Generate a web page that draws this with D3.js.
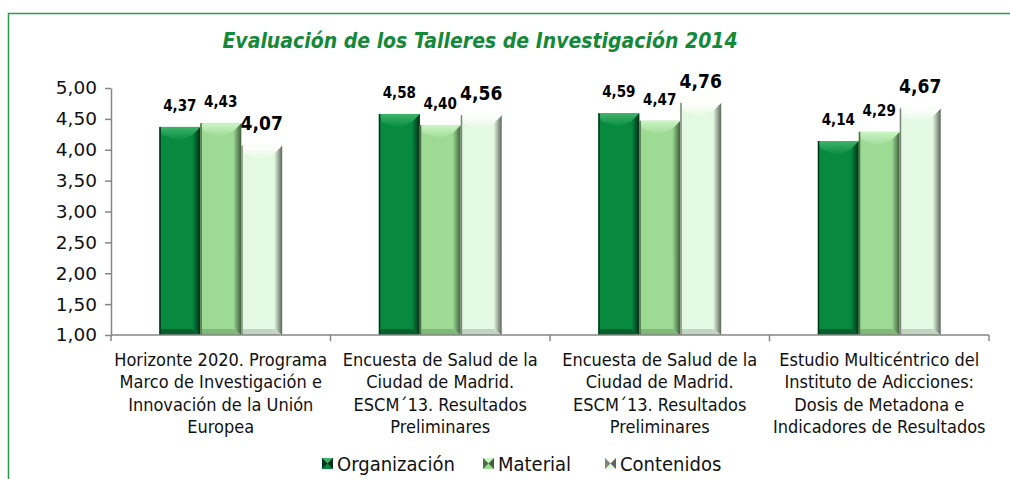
<!DOCTYPE html>
<html lang="es">
<head>
<meta charset="utf-8">
<title>Evaluación de los Talleres de Investigación 2014</title>
<script src="https://cdn.jsdelivr.net/npm/d3@7"></script>
<style>
  body { margin: 0; background: #fff; }
  svg text { font-family: "DejaVu Sans Condensed", "DejaVu Sans", sans-serif; font-stretch: condensed; fill: #111; }
</style>
</head>
<body>
<script>
// data
var categories = [
  "Horizonte 2020. Programa|Marco de Investigación e|Innovación de la Unión|Europea",
  "Encuesta de Salud de la|Ciudad de Madrid.|ESCM´13. Resultados|Preliminares",
  "Encuesta de Salud de la|Ciudad de Madrid.|ESCM´13. Resultados|Preliminares",
  "Estudio Multicéntrico del|Instituto de Adicciones:|Dosis de Metadona e|Indicadores de Resultados"
];
var seriesNames = ["Organización", "Material", "Contenidos"];
var organizacion = [4.37, 4.58, 4.59, 4.14];
var material = [4.43, 4.40, 4.47, 4.29];
var contenidos = [4.07, 4.56, 4.76, 4.67];
var yTicks = [1, 1.5, 2, 2.5, 3, 3.5, 4, 4.5, 5];

var values = [organizacion, material, contenidos];

// look of each series: base, top bevel, right side, bottom bevel
var styles = [
  { base: "#078a40", top: "#3fb36a", side: "#022e16", bottom: "#05602d", edge: "#02361a" },
  { base: "#9ddb95", top: "#ccf4c5", side: "#3f5d3b", bottom: "#7fb877", edge: "#4d6e48" },
  { base: "#e4f9e1", top: "#ffffff", side: "#5d665c", bottom: "#c3d4c0", edge: "#7c877a" }
];

var w = 1010, h = 479;
var plotLeft = 111, plotRight = 989, plotTop = 88, plotBottom = 335;

var svg = d3.select("body").append("svg")
  .attr("width", w)
  .attr("height", h);

// frame
svg.append("rect")
  .attr("x", 8.5).attr("y", 13.5)
  .attr("width", 1010).attr("height", 500)
  .attr("fill", "none")
  .attr("stroke", "#2f9a4c")
  .attr("stroke-width", 1.5);

// title
svg.append("text")
  .attr("x", 480).attr("y", 48)
  .attr("text-anchor", "middle")
  .style("font-size", "21px")
  .style("font-weight", "bold")
  .style("font-style", "italic")
  .style("fill", "#14893a")
  .text("Evaluación de los Talleres de Investigación 2014");

var y = d3.scaleLinear().domain([1, 5]).range([plotBottom, plotTop]);
var x0 = d3.scaleBand().domain(d3.range(categories.length)).range([plotLeft, plotRight]);
var x1 = d3.scaleBand().domain(d3.range(seriesNames.length))
  .range([0, x0.bandwidth()])
  .paddingOuter(1.18);

// gradients for the shaded right side and the top bevel
var defs = svg.append("defs");
styles.forEach(function(s, i) {
  var g = defs.append("linearGradient")
    .attr("id", "side" + i)
    .attr("x1", "0").attr("x2", "1").attr("y1", "0").attr("y2", "0");
  g.append("stop").attr("offset", "0").attr("stop-color", s.base);
  g.append("stop").attr("offset", "1").attr("stop-color", s.side);
  var t = defs.append("linearGradient")
    .attr("id", "top" + i)
    .attr("x1", "0").attr("x2", "0").attr("y1", "0").attr("y2", "1");
  t.append("stop").attr("offset", "0").attr("stop-color", s.top);
  t.append("stop").attr("offset", "1").attr("stop-color", s.base);
});

// y axis
var yAxis = svg.append("g")
  .attr("transform", "translate(" + plotLeft + ",0)")
  .call(d3.axisLeft(y).tickValues(yTicks).tickSize(6).tickSizeOuter(0)
    .tickFormat(function(d) { return d3.format(".2f")(d).replace(".", ","); }));
yAxis.select(".domain").attr("stroke", "#868686").attr("stroke-width", 1.5);
yAxis.selectAll(".tick line").attr("stroke", "#868686").attr("stroke-width", 1.5);
yAxis.selectAll(".tick text")
  .attr("x", -14)
  .style("font-family", "'DejaVu Sans', sans-serif")
  .style("font-stretch", "normal")
  .style("font-size", "18.5px")
  .style("fill", "#111");

// bars
var groups = svg.selectAll("g.cat")
  .data(categories)
  .enter()
  .append("g")
  .attr("class", "cat")
  .attr("transform", function(d, i) { return "translate(" + x0(i) + ",0)"; });

groups.each(function(c, ci) {
  var g = d3.select(this);
  seriesNames.forEach(function(s, si) {
    var v = values[si][ci];
    var bx = x1(si), bw = x1.bandwidth();
    var by = y(v), bh = y(1) - y(v);
    var b = 8, bb = 6;
    var st = styles[si];
    g.append("rect")
      .attr("x", bx).attr("y", by)
      .attr("width", bw).attr("height", bh)
      .attr("fill", st.base);
    // right side
    g.append("polygon")
      .attr("points", [[bx + bw - b, by + b], [bx + bw, by], [bx + bw, by + bh], [bx + bw - b, by + bh - bb]].join(" "))
      .attr("fill", "url(#side" + si + ")");
    // top bevel
    g.append("polygon")
      .attr("points", [[bx, by], [bx + bw, by], [bx + bw - b, by + b], [bx + bw / 2, by + b + 6], [bx + b * 0.4, by + b]].join(" "))
      .attr("fill", "url(#top" + si + ")");
    // bottom bevel
    g.append("polygon")
      .attr("points", [[bx + 2, by + bh - bb], [bx + bw - b, by + bh - bb], [bx + bw, by + bh], [bx, by + bh]].join(" "))
      .attr("fill", st.bottom);
    // left edge
    g.append("rect")
      .attr("x", bx).attr("y", by)
      .attr("width", 1.5).attr("height", bh)
      .attr("fill", st.edge);
    // value label
    var big = si === 2;
    g.append("text")
      .attr("x", bx + bw / 2)
      .attr("y", by - (big ? 15 : 16))
      .attr("text-anchor", "middle")
      .style("font-weight", "bold")
      .style("font-size", big ? "19px" : "15px")
      .style("fill", "#000")
      .text(d3.format(".2f")(v).replace(".", ","));
  });
});

// x axis
svg.append("line")
  .attr("x1", plotLeft).attr("x2", plotRight)
  .attr("y1", plotBottom).attr("y2", plotBottom)
  .attr("stroke", "#868686").attr("stroke-width", 1.5);
svg.selectAll("line.xtick")
  .data(d3.range(categories.length + 1))
  .enter()
  .append("line")
  .attr("class", "xtick")
  .attr("x1", function(d) { return plotLeft + d * x0.step(); })
  .attr("x2", function(d) { return plotLeft + d * x0.step(); })
  .attr("y1", plotBottom).attr("y2", plotBottom + 6)
  .attr("stroke", "#868686").attr("stroke-width", 1.5);

// category labels
groups.each(function(c) {
  var t = d3.select(this).append("text")
    .attr("text-anchor", "middle")
    .style("font-size", "18px");
  c.split("|").forEach(function(line, li) {
    t.append("tspan")
      .attr("x", x0.bandwidth() / 2)
      .attr("y", 366 + li * 22.3)
      .text(line);
  });
});

// legend
var legendX = [322, 483, 605];
var legend = svg.selectAll("g.legend")
  .data(seriesNames)
  .enter()
  .append("g")
  .attr("class", "legend")
  .attr("transform", function(d, i) { return "translate(" + legendX[i] + ",458)"; });

legend.append("rect")
  .attr("width", 11).attr("height", 11)
  .attr("fill", function(d, i) { return styles[i].base; });
legend.append("polygon")
  .attr("points", "0,0 11,0 5.5,5.5")
  .attr("fill", function(d, i) { return styles[i].top; });
legend.append("polygon")
  .attr("points", "11,0 11,11 5.5,5.5")
  .attr("fill", function(d, i) { return styles[i].side; });
legend.append("polygon")
  .attr("points", "0,0 0,11 5.5,5.5")
  .attr("fill", function(d, i) { return styles[i].edge; });

legend.append("text")
  .attr("x", 15).attr("y", 13)
  .style("font-size", "20px")
  .text(function(d) { return d; });
</script>
</body>
</html>
